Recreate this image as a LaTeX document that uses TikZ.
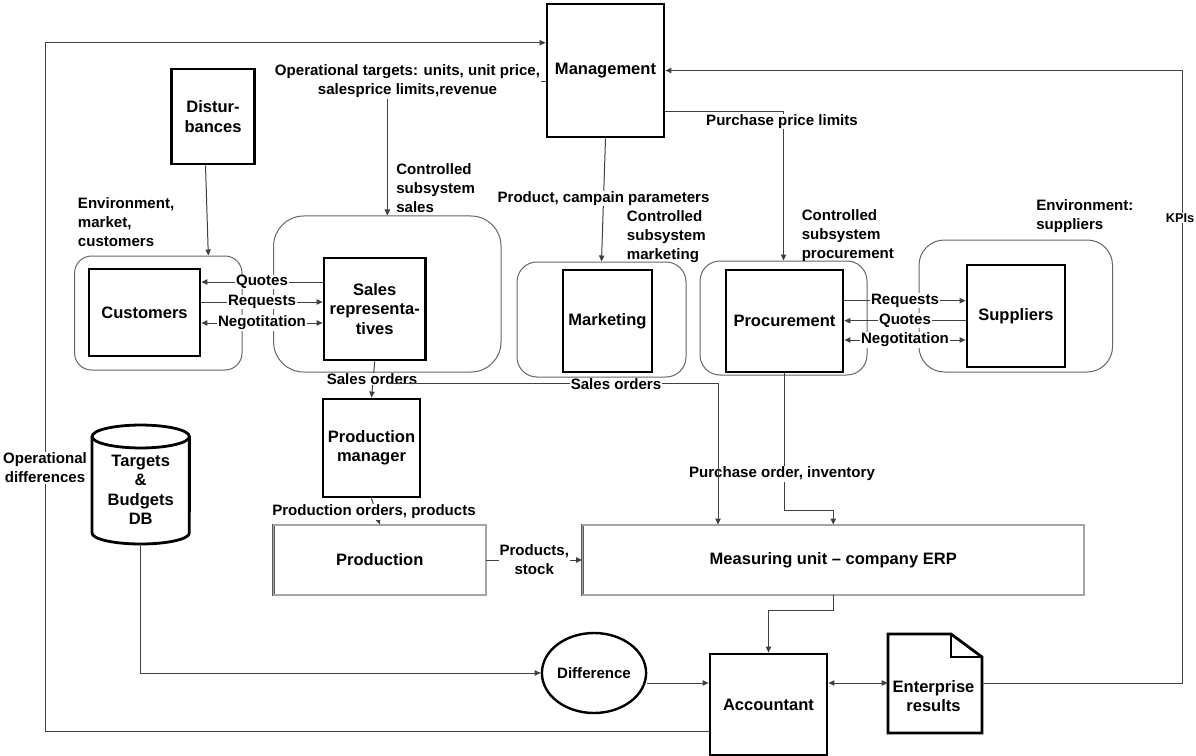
\documentclass[tikz,border=0pt]{standalone}
\usepackage{fontspec}
\setmainfont{Liberation Sans}
\usetikzlibrary{arrows.meta,shapes.geometric,fit,calc}

\newcommand\diagboxfont{\fontsize{12.4}{14.6}\selectfont\bfseries}
\newcommand\diaglblfont{\fontsize{11.3}{14.2}\selectfont\bfseries}
\newcommand\diagsmallfont{\fontsize{9.6}{11}\selectfont\bfseries}

\begin{document}
\begin{tikzpicture}[x=0.75pt,y=-0.75pt,
  tip/.style={-{Triangle[length=4.5pt,width=4pt]}},
  both/.style={{Triangle[length=4.5pt,width=4pt]}-{Triangle[length=4.5pt,width=4pt]}},
  conn/.style={draw=black!75, line width=0.75pt},
  size/.style 2 args={minimum width=#1*0.75pt, minimum height=#2*0.75pt},
  blk/.style={draw=black, line width=2.1pt, inner sep=0pt, align=center, font=\diagboxfont},
  envbox/.style={draw=black!60, line width=0.75pt, inner sep=0pt},
  dbl/.style={draw=black!65, line width=0.6pt, double=black!35, double distance=1pt, inner sep=0pt, font=\diagboxfont},
  lbl/.style={fill=white, inner sep=0.5pt, align=center, font=\diaglblfont},
  note/.style={inner sep=0pt, align=left, font=\diaglblfont, anchor=west},
]
\useasboundingbox (0,0) rectangle (1196,756);

% environments and controlled subsystems
\node[envbox, rounded corners=12.75pt, fit={(74.6,256) (242,370)}] (custenv) {};
\node[envbox, rounded corners=22.5pt, fit={(273.6,216) (501,372)}] (salesenv) {};
\node[envbox, rounded corners=15pt, fit={(517,262) (686,377)}] (mktenv) {};
\node[envbox, rounded corners=15pt, fit={(700,261) (867,375)}] (procenv) {};
\node[envbox, rounded corners=19pt, fit={(919,240) (1112.5,372)}] (supenv) {};

% main blocks
\node[blk, size={117}{133}] (mgmt) at (605.5,70.5) {Management};
\node[blk, size={83}{95}] (dist) at (213,116.5) {Distur-\\bances};
\node[blk, size={111}{87}] (cust) at (144.5,312.5) {Customers};
\node[blk, size={101.5}{102}] (sales) at (374.75,309) {Sales\\representa-\\tives};
\node[blk, size={89}{102}] (mkt) at (607.5,321) {Marketing};
\node[blk, size={117}{102}] (proc) at (784.5,321) {Procurement};
\node[blk, size={98}{102}] (sup) at (1016,316) {Suppliers};
\node[blk, size={97}{98}] (pm) at (371.5,448) {Production\\manager};
\node[blk, size={117}{101}] (acc) at (768.5,704.5) {Accountant};
\node[dbl, size={212.4}{70}] (prod) at (379.8,560) {Production};
\node[dbl, size={501.5}{70}] (erp) at (833.25,560) {Measuring unit -- company ERP};
\node[draw=black, line width=1.8pt, ellipse, size={94}{80}, inner sep=0pt, font=\diaglblfont] (diff) at (594,673) {Difference};

% database cylinder
\node[inner sep=0pt, fit={(92,425) (189.4,544)}] (db) {};
\draw[black, line width=2.1pt] (92,436.5) -- (92,533)
  arc[start angle=180, end angle=360, x radius=36.5pt, y radius=8.25pt] -- (189.4,436.5);
\draw[black, line width=2.1pt] (140.7,436.5) ellipse[x radius=36.5pt, y radius=8.6pt];
\node[align=center, inner sep=0pt, font=\diagboxfont] (dbtext) at (140.7,490) {Targets\\\&\\Budgets\\DB};

% document shape
\node[inner sep=0pt, fit={(888,634) (982,733)}] (ent) {};
\draw[black, line width=2.1pt, line join=miter] (888,634) -- (951,634) -- (982,657) -- (982,733) -- (888,733) -- cycle;
\draw[black, line width=2.1pt, line join=miter] (951,634) -- (951,657) -- (982,657);
\node[align=center, inner sep=0pt, font=\diagboxfont] (enttext) at (933.5,696) {Enterprise\\results};

% outer feedback loop
\coordinate (o1) at (45,731.7);
\coordinate (o2) at (45,42.7);
\draw[conn, tip] (acc.west |- o1) -- (o1) -- (o2) -- (mgmt.west |- o2);
\node[lbl] at (45,468) {Operational\\differences};

% management to sales
\coordinate (t1) at (387,82);
\draw[conn, tip] (mgmt.west |- t1) -| (salesenv.north);
\node[lbl] at (407.5,81.5) {Operational targets: units, unit price,\\salesprice limits,revenue};
\node[note] at (396,188) {Controlled\\subsystem\\sales};

% disturbances
\draw[conn, tip] ($(dist.south)+(-7.5,0)$) -- ($(custenv.north)+(50,0)$);
\node[note] at (77.7,222) {Environment,\\market,\\customers};

% customers <-> sales representatives
\draw[conn, tip] (sales.west |- 0,282) -- node[lbl]{Quotes} (cust.east |- 0,282);
\draw[conn, tip] (cust.east |- 0,302) -- node[lbl]{Requests} (sales.west |- 0,302);
\draw[conn, both] (cust.east |- 0,323) -- node[lbl]{Negotitation} (sales.west |- 0,323);

% management to marketing
\draw[conn, tip] (mgmt.south) -- node[lbl, pos=0.49]{Product, campain parameters} (mktenv.north);
\node[note] at (626.7,237) {Controlled\\subsystem\\marketing};

% management to procurement
\coordinate (pp) at (783.5,112);
\draw[conn, tip] (mgmt.east |- pp) -| (procenv.north);
\node[lbl, inner sep=0.2pt] at (782,121.5) {Purchase price limits};
\node[note] at (801.5,235.5) {Controlled\\subsystem\\procurement};

% procurement <-> suppliers
\draw[conn, tip] (proc.east |- 0,300.7) -- node[lbl]{Requests} (sup.west |- 0,300.7);
\draw[conn, tip] (sup.west |- 0,320.7) -- node[lbl]{Quotes} (proc.east |- 0,320.7);
\draw[conn, both] (proc.east |- 0,340) -- node[lbl]{Negotitation} (sup.west |- 0,340);
\node[note] at (1036,216.5) {Environment:\\suppliers};

% procurement to ERP
\coordinate (po) at (783.5,510);
\draw[conn, tip] (proc.south) -- (proc.south |- po) -| (erp.north);
\node[lbl] at (782,474) {Purchase order, inventory};

% sales orders
\draw[conn, tip] (sales.south) -- (pm.north);
\node[lbl] at (372,379) {Sales orders};
\coordinate (so) at (387,383.5);
\draw[conn, tip] (so) -| (erp.north -| 718,0);
\node[lbl] at (616,384.5) {Sales orders};

% production
\draw[conn, tip] (pm.south) -- (prod.north);
\node[lbl] at (374,512) {Production orders, products};
\draw[conn, tip] (prod.east) -- node[lbl]{Products,\\stock} (erp.west);

% measurement and accounting
\draw[conn, tip] (db.south) |- (diff.west);
\draw[conn, tip] (diff.east |- 0,683) -- (acc.west |- 0,683);
\draw[conn, tip] (erp.south) -- (erp.south |- 0,610) -| (acc.north);
\draw[conn, both] (acc.east |- 0,683) -- (ent.west |- 0,683);

% KPIs back to management
\coordinate (k) at (1182,70.5);
\draw[conn, tip] (ent.east |- 0,683) -| (k) -- (mgmt.east);
\node[lbl, font=\diagsmallfont] at (1180,218) {KPIs};
\end{tikzpicture}
\end{document}
